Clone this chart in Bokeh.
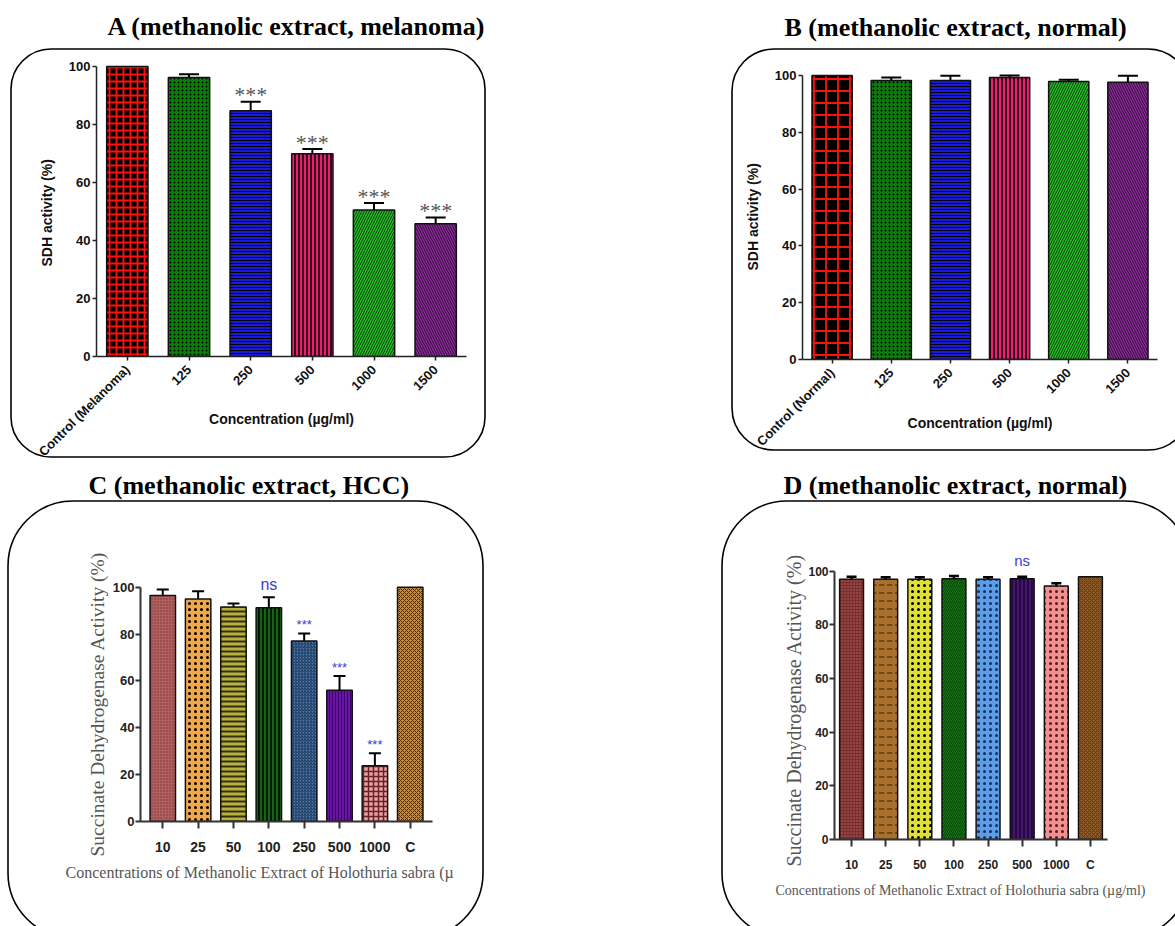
from math import pi
from urllib.parse import quote
from bokeh.plotting import figure
from bokeh.models import (ColumnDataSource, FactorRange, Range1d, FixedTicker,
                          Whisker, TeeHead, Title)
from bokeh.embed import file_html
from bokeh.resources import INLINE
from bokeh.core.properties import value

# ------------------------------------------------------------------ data
Y_TICKS = [0, 20, 40, 60, 80, 100]

A_CATS = ["Control (Melanoma)", "125", "250", "500", "1000", "1500"]
A_VALS = [100, 96.2, 84.7, 69.9, 50.5, 45.8]
A_ERRS = [0, 1.1, 3.1, 1.6, 2.4, 2.1]
A_SIG = ["", "", "***", "***", "***", "***"]

B_CATS = ["Control (Normal)", "125", "250", "500", "1000", "1500"]
B_VALS = [100, 98.2, 98.2, 99.3, 97.9, 97.6]
B_ERRS = [0, 1.1, 1.7, 0.7, 0.6, 2.3]
B_SIG = ["", "", "", "", "", ""]

C_CATS = ["10", "25", "50", "100", "250", "500", "1000", "C"]
C_VALS = [96.5, 95.0, 91.6, 91.2, 77.0, 56.0, 23.8, 100]
C_ERRS = [2.5, 3.3, 1.5, 4.5, 3.3, 6.1, 5.3, 0]
C_SIG = ["", "", "", "ns", "***", "***", "***", ""]

D_CATS = ["10", "25", "50", "100", "250", "500", "1000", "C"]
D_VALS = [97.0, 97.0, 97.0, 97.2, 97.0, 97.2, 94.5, 98.0]
D_ERRS = [1.0, 0.8, 0.8, 1.0, 0.8, 0.8, 1.0, 0]
D_SIG = ["", "", "", "", "", "ns", "", ""]

TITLES = ["A (methanolic extract, melanoma)", "B (methanolic extract, normal)",
          "C (methanolic extract, HCC)", "D (methanolic extract, normal)"]
AB_YLABEL = "SDH activity (%)"
AB_XLABEL = "Concentration (\u00b5g/ml)"
CD_YLABEL = "Succinate Dehydrogenase Activity (%)"
C_XLABEL = "Concentrations of Methanolic Extract of Holothuria  sabra (\u00b5"
D_XLABEL = "Concentrations of Methanolic Extract of Holothuria  sabra (\u00b5g/ml)"

# ------------------------------------------------------------------ styles
AB_FILL = ["black", "#0b7d0b", "#1a1ad8", "#e8206e", "#26c026", "#8e2c9e"]
AB_HATCH = ["cross", "dot", "horizontal_line", "vertical_line",
            "right_diagonal_line", "left_diagonal_line"]
AB_HCOL = ["#ff1010", "black", "black", "black", "#0a3a0a", "#2a0a30"]
A_HSCALE = [7, 4, 3, 4, 5, 5]
B_HSCALE = [12, 4, 3, 4, 5, 5]
AB_HWEIGHT = [1.8, 3, 1, 1.5, 1, 1]

C_FILL = ["#b0605f", "#f0a848", "#b8b040", "#126612", "#4a7ab0", "#6a12a8", "#e8a0a8", "#d08a30"]
C_HATCH = ["dot", "dot", "horizontal_line", "vertical_line", "right_diagonal_line",
           "vertical_line", "cross", "diagonal_cross"]
C_HCOL = ["#7a3030", "black", "#303010", "black", "#1a3050", "#3a0860", "#6a2020", "#4a2a08"]
C_HSCALE = [3, 6, 5, 4, 3, 3, 5, 4]
C_HWEIGHT = [1, 3.5, 2, 1.5, 1, 1, 1.5, 1]

D_FILL = ["#7a2e2e", "#a8702c", "#e0e030", "#127012", "#5a9ee8", "#2a0848", "#f09090", "#8a5a28"]
D_HATCH = ["dot", "horizontal_dash", "dot", "right_diagonal_line", "dot",
           "vertical_line", "dot", "diagonal_cross"]
D_HCOL = ["#b86464", "#5a3a10", "black", "#0a4a0a", "#1a2a60", "#5a2a8a", "#5a1a1a", "#5a3a18"]
D_HSCALE = [3, 8, 6, 4, 6, 4, 6, 4]
D_HWEIGHT = [1, 1.5, 3.5, 1, 3, 1, 3, 1]

SERIF = "Liberation Serif"
SANS = "Liberation Sans"
TITLE_H = 30


def box_css(W, H, box, pos):
    l, t, r, b, rad = box
    svg = ('<svg xmlns="http://www.w3.org/2000/svg" width="%d" height="%d">'
           '<rect x="%s" y="%s" width="%s" height="%s" rx="%s" ry="%s" fill="none" '
           'stroke="#000" stroke-width="1.6"/></svg>' % (W, H, l, t, r - l, b - t, rad, rad))
    return {"position": "absolute", "left": "%dpx" % pos[0], "top": "%dpx" % pos[1],
            "background-image": 'url("data:image/svg+xml,%s")' % quote(svg),
            "background-repeat": "no-repeat"}


def make_panel(cats, vals, errs, sig, fills, hatches, hcols, hscales, hweights, cfg):
    W, H = cfg["size"]
    L, R, T, B = cfg["borders"]
    fb = H - B
    y_end = 100.0 * (fb - T) / (fb - cfg["y100"])
    xr = FactorRange(*cats, range_padding=cfg.get("pad", 0), range_padding_units="absolute")
    p = figure(width=W, height=H, x_range=xr, y_range=Range1d(0, y_end),
               output_backend="svg", toolbar_location=None,
               min_border_left=L, min_border_right=R, min_border_top=T, min_border_bottom=B,
               background_fill_color=None, border_fill_color=None,
               outline_line_color=None, styles=box_css(W, H, cfg["box"], cfg["pos"]))
    p.xgrid.grid_line_color = None
    p.ygrid.grid_line_color = None

    src = ColumnDataSource(dict(cat=cats, val=vals, fill=fills, hatch=hatches,
                                hcol=hcols, hscale=hscales, hweight=hweights))
    p.vbar(x="cat", top="val", width=cfg["bar_w"], source=src, fill_color="fill",
           hatch_pattern="hatch", hatch_color="hcol", hatch_scale="hscale",
           hatch_weight="hweight", line_color="#111111", line_width=1.5)

    ec = [c for c, e in zip(cats, errs) if e > 0]
    ev = [v for v, e in zip(vals, errs) if e > 0]
    eu = [v + e for v, e in zip(vals, errs) if e > 0]
    esrc = ColumnDataSource(dict(cat=ec, lower=ev, upper=eu))
    p.add_layout(Whisker(base="cat", lower="lower", upper="upper", source=esrc,
                         upper_head=TeeHead(size=cfg["cap"], line_width=cfg["err_lw"], line_color="black"),
                         lower_head=None, line_width=cfg["err_lw"], line_color="black"))

    for kind, fs, off in cfg["sig_styles"]:
        sub = dict(cat=[c for c, s in zip(cats, sig) if s == kind],
                   y=[v + e for v, e, s in zip(vals, errs, sig) if s == kind],
                   t=[s for s in sig if s == kind])
        if sub["cat"]:
            p.text(x="cat", y="y", text="t", source=ColumnDataSource(sub),
                   text_align="center", text_baseline="alphabetic", y_offset=off,
                   text_font=value(cfg["sig_font"]), text_font_size=fs,
                   text_color=cfg["sig_color"])

    for ax in (p.xaxis[0], p.yaxis[0]):
        ax.axis_line_width = cfg["axis_lw"]
        ax.axis_line_color = cfg["axis_col"]
        ax.major_tick_line_color = cfg["axis_col"]
        ax.major_tick_line_width = cfg["axis_lw"]
        ax.major_tick_in = 0
        ax.minor_tick_line_color = None
        ax.major_label_text_font = SANS
        ax.major_label_text_font_style = "bold"
        ax.major_label_text_color = cfg["tick_col"]
    p.yaxis.ticker = FixedTicker(ticks=Y_TICKS)
    p.yaxis.bounds = (0, 100)
    p.yaxis.major_tick_out = cfg["ytick_out"]
    p.yaxis.major_label_standoff = cfg["ylab_standoff"]
    p.yaxis.major_label_text_font_size = cfg["ytick_fs"]
    p.xaxis.major_tick_out = cfg["xtick_out"]
    p.xaxis.major_label_standoff = cfg["xlab_standoff"]
    p.xaxis.major_label_text_font_size = cfg["xtick_fs"]
    p.xaxis.major_label_orientation = cfg["xorient"]

    # main title (above): fills the whole top border, text centred in it
    p.title = Title(text=cfg["title_text"], align="left", offset=cfg["title_offset"],
                    standoff=max(T - TITLE_H, 0), text_font=SERIF, text_font_size="26px",
                    text_font_style="bold", text_color="black")
    # y label (left)
    yl = cfg["ylabel"]
    p.add_layout(Title(text=yl["text"], align="left", offset=yl["offset"], standoff=yl["standoff"],
                       text_font=yl["font"], text_font_size=yl["fs"], text_font_style=yl["style"],
                       text_color=yl["color"]), "left")
    # x label
    xl = cfg["xlabel"]
    if xl["kind"] == "axis":
        p.xaxis.axis_label = xl["text"]
        p.xaxis.axis_label_standoff = xl["standoff"]
        p.xaxis.axis_label_text_font = xl["font"]
        p.xaxis.axis_label_text_font_size = xl["fs"]
        p.xaxis.axis_label_text_font_style = xl["style"]
        p.xaxis.axis_label_text_color = xl["color"]
    else:
        p.add_layout(Title(text=xl["text"], align="left", offset=xl["offset"], standoff=xl["standoff"],
                           text_font=xl["font"], text_font_size=xl["fs"], text_font_style=xl["style"],
                           text_color=xl["color"]), "below")
    return p


cfgA = dict(pos=(0, 0), size=(495, 468), borders=(96, 29, 49, 112), y100=65, bar_w=0.67,
            cap=20, err_lw=2, sig_styles=[("***", "22px", -7)], sig_font=SERIF, sig_color="#555555",
            axis_lw=1.5, axis_col="#222222", tick_col="#111111", ytick_out=4, ylab_standoff=2,
            ytick_fs="13px", xtick_out=4, xlab_standoff=7, xtick_fs="13px", xorient=pi / 4,
            box=(11, 49, 485, 457, 40), title_text=TITLES[0], title_offset=11,
            ylabel=dict(text=AB_YLABEL, offset=90, standoff=21, font=SANS, fs="14px", style="bold", color="#111111"),
            xlabel=dict(kind="axis", text=AB_XLABEL, standoff=-56, font=SANS, fs="14px",
                        style="bold", color="#111111"))

cfgB = dict(pos=(495, 0), size=(680, 468), borders=(307, 18, 51, 109), y100=74, bar_w=0.68,
            cap=20, err_lw=2, sig_styles=[], sig_font=SERIF, sig_color="#555555",
            axis_lw=1.5, axis_col="#222222", tick_col="#111111", ytick_out=4, ylab_standoff=2,
            ytick_fs="13px", xtick_out=4, xlab_standoff=7, xtick_fs="13px", xorient=pi / 4,
            box=(237, 49, 695, 450, 42), title_text=TITLES[1], title_offset=-18,
            ylabel=dict(text=AB_YLABEL, offset=89, standoff=21, font=SANS, fs="14px", style="bold", color="#111111"),
            xlabel=dict(kind="axis", text=AB_XLABEL, standoff=-42, font=SANS, fs="14px",
                        style="bold", color="#111111"))

cfgC = dict(pos=(0, 468), size=(495, 458), borders=(140, 63, 30, 105), y100=118, pad=0.13, bar_w=0.72,
            cap=12, err_lw=2, sig_styles=[("ns", "16px", -13), ("***", "13px", -9)], sig_font=SANS,
            sig_color="#3b3bd6", axis_lw=2, axis_col="#333333", tick_col="#222222", ytick_out=5,
            ylab_standoff=1, ytick_fs="13px", xtick_out=7, xlab_standoff=10, xtick_fs="14px",
            xorient="horizontal", box=(8, 33, 483, 470, 65), title_text=TITLES[2], title_offset=-52,
            ylabel=dict(text=CD_YLABEL, offset=-35, standoff=3, font=SERIF, fs="19.5px", style="normal", color="#555555"),
            xlabel=dict(kind="title", text=C_XLABEL, offset=-75, standoff=8, font=SERIF, fs="16px",
                        style="normal", color="#555555"))

cfgD = dict(pos=(495, 468), size=(680, 458), borders=(339, 68, 31, 87), y100=102, bar_w=0.70,
            cap=10, err_lw=2.5, sig_styles=[("ns", "15px", -16)], sig_font=SANS,
            sig_color="#3b3bd6", axis_lw=2, axis_col="#333333", tick_col="#222222", ytick_out=5,
            ylab_standoff=1, ytick_fs="12px", xtick_out=7, xlab_standoff=11, xtick_fs="12px",
            xorient="horizontal", box=(227, 33, 695, 470, 65), title_text=TITLES[3], title_offset=-51,
            ylabel=dict(text=CD_YLABEL, offset=-27, standoff=2, font=SERIF, fs="20px", style="normal", color="#555555"),
            xlabel=dict(kind="title", text=D_XLABEL, offset=-59, standoff=12, font=SERIF, fs="14px",
                        style="normal", color="#555555"))

pA = make_panel(A_CATS, A_VALS, A_ERRS, A_SIG, AB_FILL, AB_HATCH, AB_HCOL, A_HSCALE, AB_HWEIGHT, cfgA)
pB = make_panel(B_CATS, B_VALS, B_ERRS, B_SIG, AB_FILL, AB_HATCH, AB_HCOL, B_HSCALE, AB_HWEIGHT, cfgB)
pC = make_panel(C_CATS, C_VALS, C_ERRS, C_SIG, C_FILL, C_HATCH, C_HCOL, C_HSCALE, C_HWEIGHT, cfgC)
pD = make_panel(D_CATS, D_VALS, D_ERRS, D_SIG, D_FILL, D_HATCH, D_HCOL, D_HSCALE, D_HWEIGHT, cfgD)

open("out.html", "w").write(file_html([pA, pB, pC, pD], INLINE))
